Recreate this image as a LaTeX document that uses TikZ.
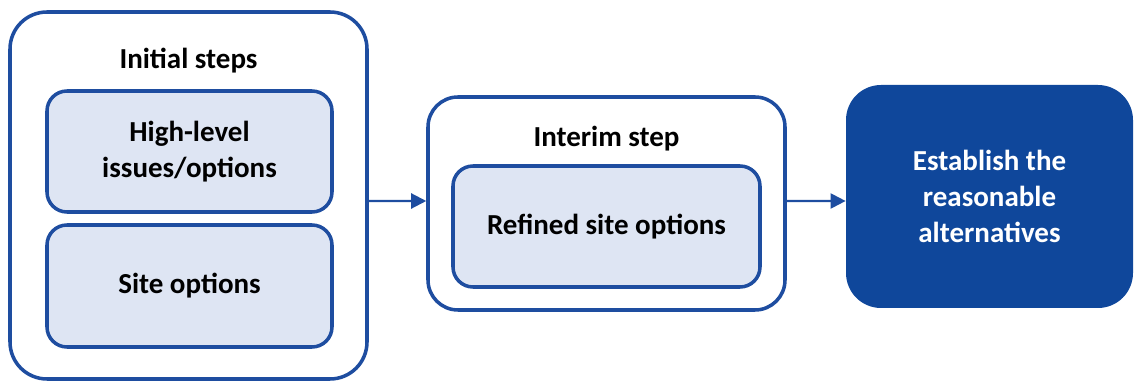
\documentclass[tikz,border=0pt]{standalone}
\usepackage{fontspec}
\setmainfont{Carlito}
\usepackage{xcolor}
\usepackage{tikz}
\usetikzlibrary{arrows.meta, positioning, calc}
\definecolor{frameblue}{RGB}{30,77,160}
\definecolor{darkblue}{RGB}{15,71,155}
\definecolor{paleblue}{RGB}{222,229,243}
\tikzstyle{stage} = [rectangle, draw=frameblue, line width=2pt, fill=white]
\tikzstyle{task} = [rectangle, rounded corners=0.4cm, minimum width=5.7cm, minimum height=2.42cm, align=center, draw=frameblue, line width=2pt, fill=paleblue, font=\bfseries\fontsize{16.5}{20.5}\selectfont]
\tikzstyle{result} = [rectangle, rounded corners=0.7cm, minimum width=5.74cm, minimum height=4.46cm, align=center, fill=darkblue, text=white, font=\bfseries\fontsize{16.5}{20.5}\selectfont]
\tikzstyle{heading} = [font=\bfseries\fontsize{16.5}{20.5}\selectfont]
\tikzstyle{line} = [-{Triangle[length=0.3cm, width=0.3cm]}, draw=frameblue, line width=1.2pt]

\begin{document}
\begin{tikzpicture}
    \useasboundingbox (0,0) rectangle (22.68,7.62);
    \node (initial) [stage, rounded corners=0.74cm, minimum width=7.14cm, minimum height=7.34cm] at (3.77,3.71) {};
    \node (initial-title) [heading] at (3.77,6.40) {Initial steps};
    \node (highlevel) [task] at (3.79,4.59) {High-level\\issues/options};
    \node (site) [task, minimum height=2.44cm] at (3.79,1.90) {Site options};

    \node (interim) [stage, rounded corners=0.6cm, minimum width=7.14cm, minimum height=4.26cm] at (12.13,3.55) {};
    \node (interim-title) [heading] at (12.13,4.84) {Interim step};
    \node (refined) [task, minimum width=6.14cm] at (12.13,3.09) {Refined site options};

    \node (alternatives) [result] at (19.79,3.69) {Establish the\\reasonable\\alternatives};

    \draw [line] ([yshift=-0.11cm]initial.east) -- ([yshift=0.05cm]interim.west);
    \draw [line] ([yshift=0.05cm]interim.east) -- ([yshift=-0.09cm]alternatives.west);
\end{tikzpicture}
\end{document}
